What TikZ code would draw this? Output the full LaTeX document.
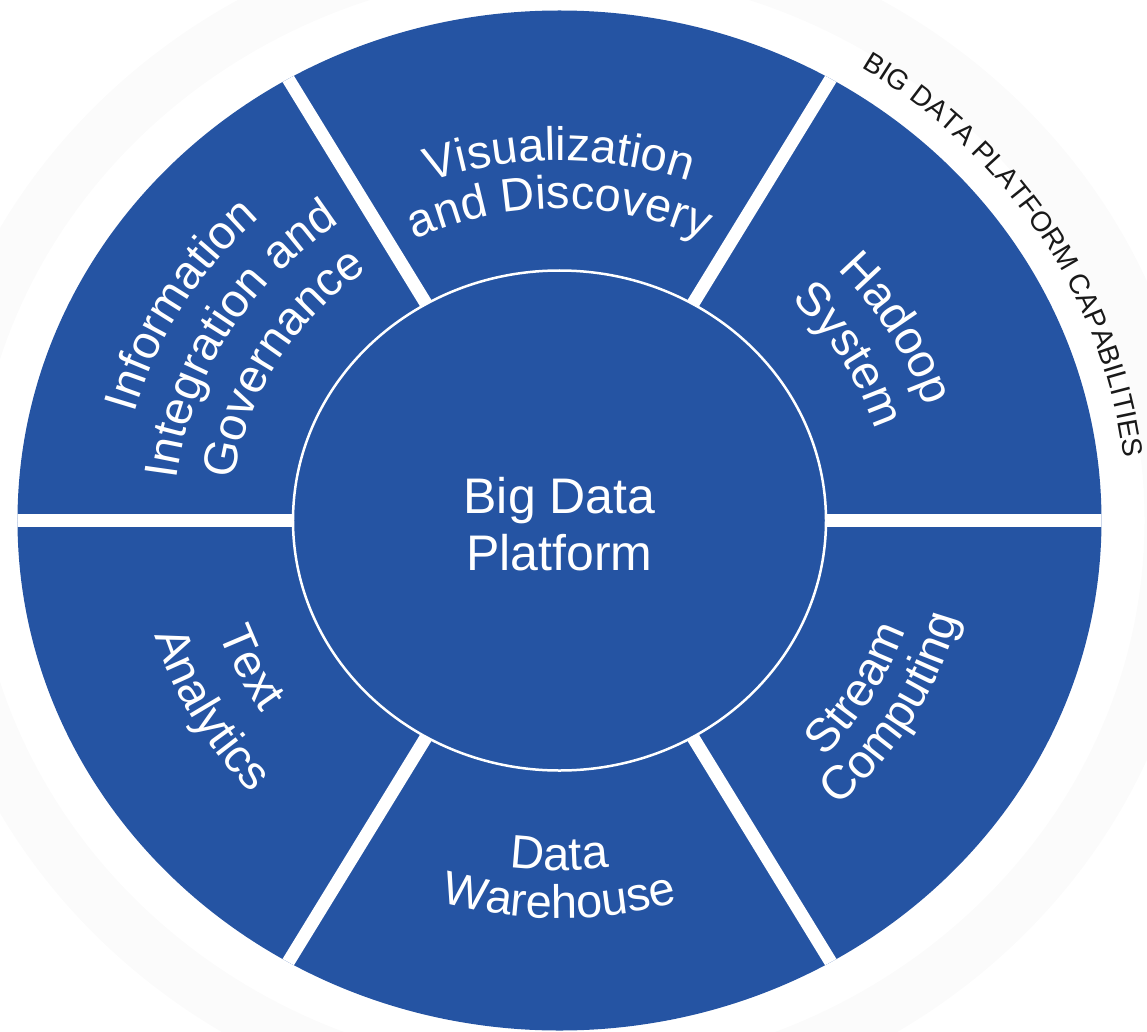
\documentclass[tikz,border=0pt]{standalone}
\usepackage{fontspec}
\setmainfont{Liberation Sans}
\usetikzlibrary{decorations.text}
\definecolor{bdblue}{HTML}{2554A3}
\definecolor{ringgray}{HTML}{FBFBFB}
\newcommand\segfont{\fontsize{47}{50}\selectfont}
\newcommand\capsfont{\fontsize{28}{30}\selectfont}
\newcommand\arcline[4]{%
  \pgfmathsetmacro\myry{0.94*#3}%
  \path[decorate, decoration={text along path, text align=center, text color=white, text={|\segfont|#4}}]
    (#1:#3 and \myry) arc[start angle=#1, end angle=#2, x radius=#3, y radius=\myry];}
\begin{document}
\begin{tikzpicture}[x=1pt,y=1pt]
\useasboundingbox (-559.5,-510.5) rectangle (587.5,520.5);
% faint outer ring
\fill[ringgray, even odd rule] (0,0) ellipse[x radius=640, y radius=602] (0,0) ellipse[x radius=585, y radius=550];
% outer ring of segments
\fill[bdblue] (0,0) ellipse[x radius=542, y radius=510];
\begin{scope}
  \clip (0,0) ellipse[x radius=542, y radius=510];
  \foreach \a in {0,60,...,300}
    \draw[white, line width=13] (\a:266.5 and 250) -- (\a:600 and 564);
\end{scope}
% core
\draw[white, line width=2.5, fill=bdblue] (0,0) ellipse[x radius=266.5, y radius=250];
\node[white, font=\fontsize{50}{57}\selectfont, align=center] (core) at (0,-3.5) {Big Data\\Platform};
% segment labels
\arcline{150}{30}{383}{Visualization}
\arcline{150}{30}{332}{and Discovery}
\arcline{90}{-30}{385}{Hadoop}
\arcline{90}{-30}{330}{System}
\arcline{210}{90}{440}{Information}
\arcline{210}{90}{385}{Integration and}
\arcline{210}{90}{328}{Governance}
\arcline{146}{266}{361}{Text}
\arcline{149}{269}{423}{Analytics}
\arcline{210}{330}{372}{Data}
\arcline{210}{330}{423}{Warehouse}
\arcline{270}{390}{365}{Stream}
\arcline{270}{390}{412}{Computing}
% outer caption
\path[decorate, decoration={text along path, text align=center, text color=black!90, text={|\capsfont|BIG DATA PLATFORM CAPABILITIES}}]
  (70:568 and 534) arc[start angle=70, end angle=-6, x radius=568, y radius=534];
\end{tikzpicture}
\end{document}
